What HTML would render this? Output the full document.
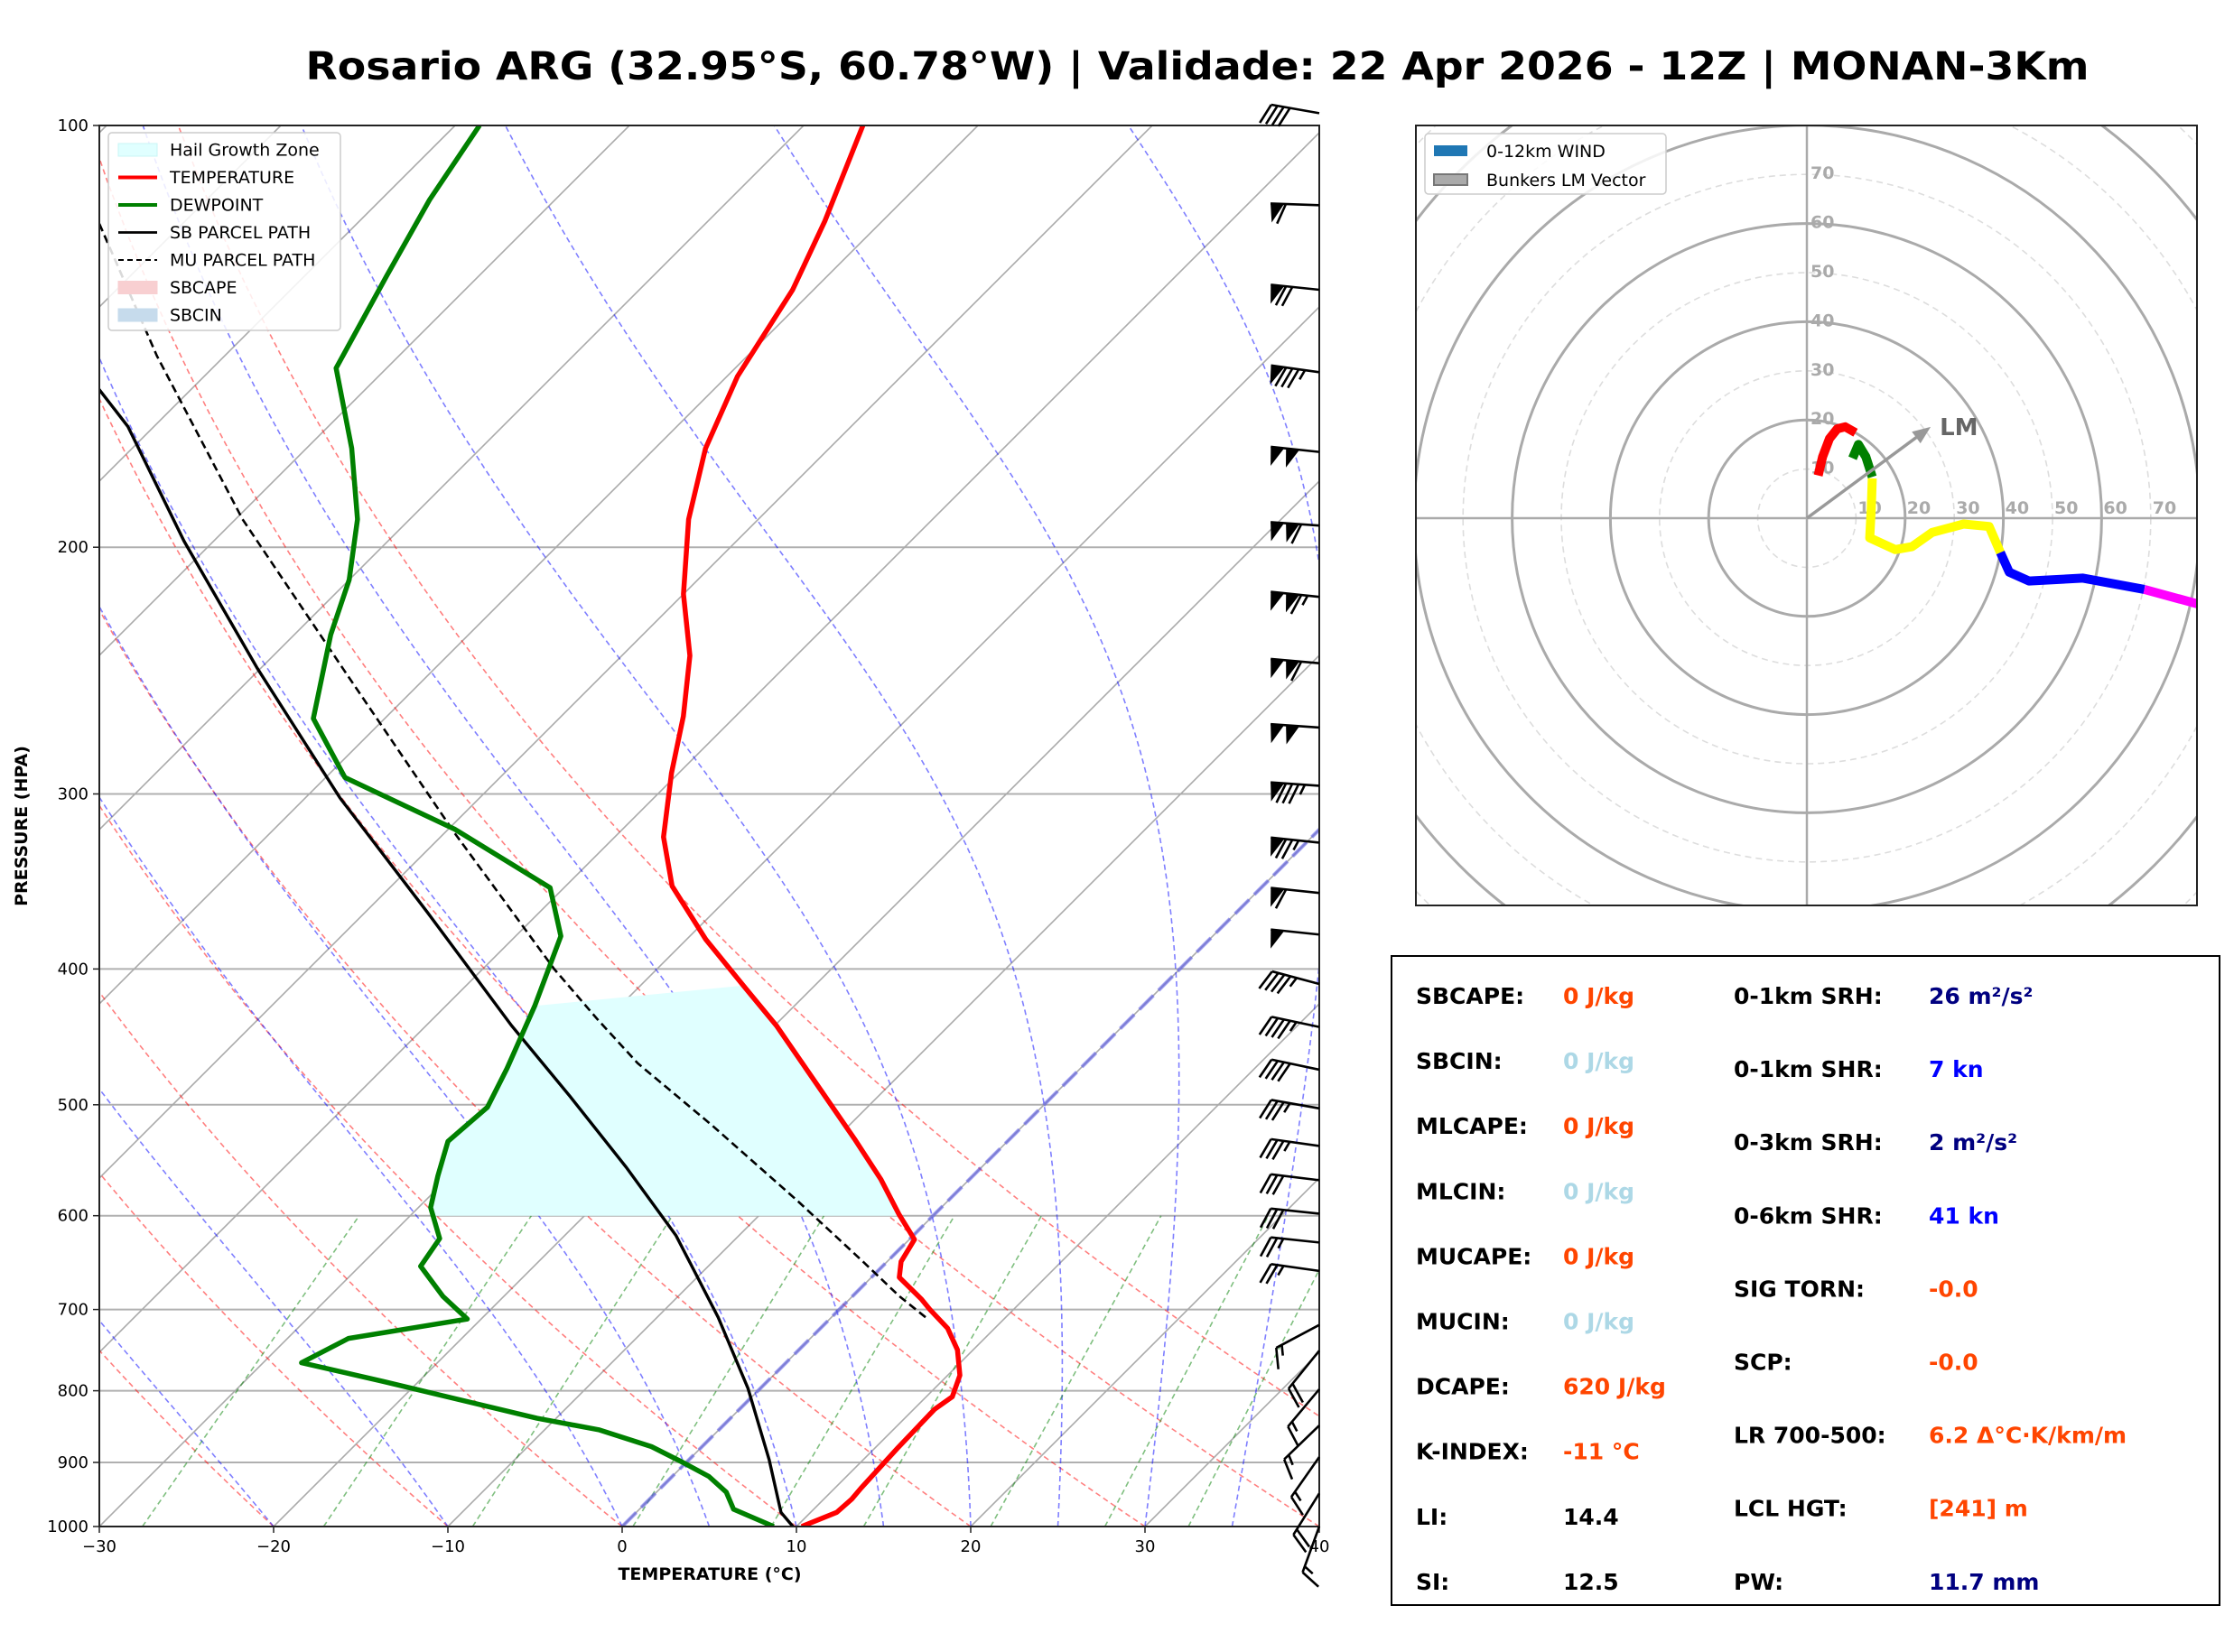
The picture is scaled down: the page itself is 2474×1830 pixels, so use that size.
<!DOCTYPE html>
<html><head><meta charset="utf-8"><style>
html,body{margin:0;padding:0;background:#fff}
svg{display:block;font-family:"DejaVu Sans","Liberation Sans",sans-serif}
</style></head><body>
<svg id="fig" width="2474" height="1830" viewBox="0 0 2474 1830" xmlns="http://www.w3.org/2000/svg">
<rect x="0" y="0" width="2474" height="1830" fill="#fff"/>
<text x="1326" y="88" text-anchor="middle" font-size="43" font-weight="bold" textLength="1975" lengthAdjust="spacingAndGlyphs">Rosario ARG (32.95°S, 60.78°W) | Validade: 22 Apr 2026 - 12Z | MONAN-3Km</text>
<defs>
<clipPath id="skewclip"><rect x="110" y="139" width="1351" height="1552"/></clipPath>
<clipPath id="hodoclip"><rect x="1568" y="139" width="865" height="864"/></clipPath>
</defs>
<g id="skew"></g>
<g id="hodo"></g>
<g id="stats">
<rect x="1541" y="1059" width="917" height="719" fill="none" stroke="#000" stroke-width="2"/>
</g>
</svg>
<script>
// ---- Sounding data ----
const tempP = [1000,977,956,939,879,825,808,780,748,722,700,688,664,647,624,599,565,529,439,411,381,349,322,290,264,239,216,191,170,151,131,117,100];
const tempC = [10.3,11.5,11.6,11.5,11.3,11.2,11.5,10.7,9.1,7.3,5.2,4.1,1.6,0.8,0.3,-2.0,-5.1,-8.9,-19.9,-24.1,-28.9,-33.9,-37.2,-40.4,-43,-46.1,-50,-54,-57.1,-59.4,-61.2,-63.3,-66.6];
const dewP = [1000,972,945,921,900,877,853,837,788,764,734,711,685,652,623,592,562,531,502,471,425,379,350,318,292,265,231,211,191,170,149,128,113,100];
const dewC = [8.7,5.4,4,2.1,-0.2,-2.9,-6.9,-11.1,-22,-27.8,-26.5,-20.8,-23.5,-26.5,-27,-29.3,-30.7,-32.1,-31.8,-32.9,-34.9,-37.4,-40.8,-49.6,-58.9,-64.1,-67.9,-70,-73,-77.4,-82.9,-85.3,-87.2,-88.6];
const sbP = [1000,977,896,797,709,620,554,493,439,364,302,244,198,164,154];
const sbC = [9.8,8.3,4.6,-0.7,-6.5,-13.6,-20.4,-27.7,-35.1,-46.5,-58,-70.2,-81.7,-91.5,-95.4];
const muP = [709,685,646,585,517,467,434,400,320,244,191,146,117];
const muC = [5.4,2.7,-1.5,-8.7,-17.9,-25.7,-30.6,-35.9,-49.4,-65.3,-79.6,-93.9,-105];
const barbP = [98,114,131,150,171,193,217,242,269,296,325,353,378,410,440,472,503,535,566,598,627,657,718,749,798,847,892,947,1000];
const barbSpd = [40,60,70,85,100,110,115,110,100,85,75,60,50,45,45,40,35,35,30,30,25,25,15,20,15,15,15,20,15];
const barbDir = [280,272,276,278,276,274,276,275,274,274,276,276,276,285,282,282,280,278,277,276,276,278,242,219,220,226,215,212,200];
const pTicks = [100,200,300,400,500,600,700,800,900,1000];
const tTicks = [-30,-20,-10,0,10,20,30,40];
// ---- Hodograph data (u,v in kn) ----
const hodoRed = [[2.3,8.7],[3.2,12.5],[4.6,16.2],[6.2,18.2],[7.8,18.6],[9.9,17.4]];
const hodoGreen = [[9.3,12.2],[10.5,15],[12,12.5],[13.3,8.4]];
const hodoYellow = [[13.3,8.1],[13.1,2],[12.8,-4],[18,-6.4],[21.4,-5.8],[25.5,-2.9],[31.9,-1.2],[37.1,-1.7],[39.4,-7]];
const hodoBlue = [[39.4,-7],[41.2,-11],[45.2,-12.8],[56.2,-12.2],[68.7,-14.5]];
const hodoMagenta = [[68.7,-14.5],[80,-17.6]];
const bunkersLM = [25.2,18.6];
const ringKn = [10,20,30,40,50,60,70,80,90,100,110,120];
const ringLabels = [10,20,30,40,50,60,70];

const NS='http://www.w3.org/2000/svg';
function el(tag,attrs,parent){const e=document.createElementNS(NS,tag);for(const k in attrs)e.setAttribute(k,attrs[k]);if(parent)parent.appendChild(e);return e;}
const L=110,R=1461,T=139,B=1691,H=1552;
function yP(p){return B-Math.log10(1000/p)*H;}
function xT(t,p){return L+(t+30)*19.3+(B-yP(p));}
function pathOf(ps,ts){return ps.map((p,i)=>(i?'L':'M')+xT(ts[i],p).toFixed(1)+','+yP(p).toFixed(1)).join('');}
const skew=document.getElementById('skew');
const clipG=el('g',{'clip-path':'url(#skewclip)'},skew);

pTicks.forEach(p=>{const ln=el('line',{x1:L,x2:R,y1:yP(p),y2:yP(p),stroke:'#b0b0b0','stroke-width':2},clipG);

});
for(let t=-130;t<=40;t+=10){const ln=el('line',{x1:xT(t,1000),y1:B,x2:xT(t,100),y2:T,stroke:'#aaa','stroke-width':1.6},clipG);

}
const plev=[];for(let p=1000;p>=100;p-=10)plev.push(p);
for(let t0=-80;t0<=50;t0+=10){const th=t0+273.15;const d=plev.map((p,i)=>(i?'L':'M')+xT(th*Math.pow(p/1000,0.286)-273.15,p).toFixed(1)+','+yP(p).toFixed(1)).join('');
const pa=el('path',{d:d,fill:'none',stroke:'rgba(255,0,0,0.5)','stroke-width':1.6,'stroke-dasharray':'6,4'},clipG);

}
function es(tc){return 6.112*Math.exp(17.67*tc/(tc+243.5));}
[-40,-30,-20,-10,0,5,10,15,20,25,30,35].forEach(t0=>{let Tk=t0+273.15;let d='M'+xT(t0,1000).toFixed(1)+','+yP(1000).toFixed(1);
for(let p=1000;p>100;p-=2){const e=es(Tk-273.15);const rs=0.622*e/(p-e);const num=287.04*Tk+2.501e6*rs;const den=1005.7+(2.501e6*2.501e6*rs*0.622)/(287.04*Tk*Tk);const dT=num/den/p*(-2);Tk+=dT;d+='L'+xT(Tk-273.15,p-2).toFixed(1)+','+yP(p-2).toFixed(1);}
const pa=el('path',{d:d,fill:'none',stroke:'rgba(0,0,255,0.5)','stroke-width':1.6,'stroke-dasharray':'6,4'},clipG);

});
[0.0004,0.001,0.002,0.004,0.007,0.01,0.016,0.024,0.032].forEach(w=>{const ps=[1000,600];const d=ps.map((p,i)=>{const e=w*p/(0.622+w);const td=243.5*Math.log(e/6.112)/(17.67-Math.log(e/6.112));return (i?'L':'M')+xT(td,p).toFixed(1)+','+yP(p).toFixed(1);}).join('');
const pa=el('path',{d:d,fill:'none',stroke:'rgba(0,128,0,0.5)','stroke-width':1.6,'stroke-dasharray':'6,4'},clipG);

});
const z0=el('line',{x1:xT(0,1000),y1:B,x2:xT(0,100),y2:T,stroke:'rgba(90,90,230,0.6)','stroke-width':4,'stroke-dasharray':'22,8'},clipG);


function interp(ps,ts,p){for(let i=0;i<ps.length-1;i++){if(p<=ps[i]&&p>=ps[i+1]){const f=Math.log(ps[i]/p)/Math.log(ps[i]/ps[i+1]);return ts[i]+f*(ts[i+1]-ts[i]);}}return ts[0];}
{let pts=[[interp(dewP,dewC,600),600]];dewP.forEach((p,i)=>{if(p<600&&p>=425)pts.push([dewC[i],p]);});
const tp=[];tempP.forEach((p,i)=>{if(p<600&&p>=411)tp.push([tempC[i],p]);});tp.reverse();pts=pts.concat(tp);pts.push([interp(tempP,tempC,600),600]);
const hz=el('polygon',{points:pts.map(a=>xT(a[0],a[1]).toFixed(1)+','+yP(a[1]).toFixed(1)).join(' '),fill:'#e0ffff',stroke:'none'},clipG);

}
const sbl=el('path',{d:pathOf(sbP,sbC),fill:'none',stroke:'#000','stroke-width':3.4},clipG);


const mul=el('path',{d:pathOf(muP,muC),fill:'none',stroke:'#000','stroke-width':2.6,'stroke-dasharray':'9,5'},clipG);


const dwl=el('path',{d:pathOf(dewP,dewC),fill:'none',stroke:'#008000','stroke-width':5.5,'stroke-linejoin':'round'},clipG);


const tl=el('path',{d:pathOf(tempP,tempC),fill:'none',stroke:'#ff0000','stroke-width':5.5,'stroke-linejoin':'round'},clipG);


el('rect',{x:L,y:T,width:R-L,height:B-T,fill:'none',stroke:'#222','stroke-width':2},skew);
pTicks.forEach(p=>{el('line',{x1:L-7,x2:L,y1:yP(p),y2:yP(p),stroke:'#222','stroke-width':1.5},skew);
const t=el('text',{x:L-12,y:yP(p)+6,'text-anchor':'end','font-size':18},skew);t.textContent=p;

});
tTicks.forEach(v=>{const x=L+(v+30)*19.3;el('line',{x1:x,x2:x,y1:B,y2:B+7,stroke:'#222','stroke-width':1.5},skew);
const t=el('text',{x:x,y:B+28,'text-anchor':'middle','font-size':18},skew);t.textContent=(v<0?'\u2212':'')+Math.abs(v);

});
{const t=el('text',{x:786,y:1750,'text-anchor':'middle','font-size':19,'font-weight':'bold'},skew);t.textContent='TEMPERATURE (°C)';


const t2=el('text',{x:0,y:0,'text-anchor':'middle','font-size':19,'font-weight':'bold',transform:'translate(30,915) rotate(-90)'},skew);t2.textContent='PRESSURE (HPA)';

}
function barb(p,spd,dir){const g=el('g',{},skew);


const bx=R,by=yP(p);const a=dir*Math.PI/180;const dx=Math.sin(a),dy=-Math.cos(a);const px=dy,py=-dx;const Ln=54;
const tx=bx+dx*Ln,ty=by+dy*Ln;el('line',{x1:bx,y1:by,x2:tx,y2:ty,stroke:'#000','stroke-width':2.6},g);
let s=Math.round(spd/5)*5;let pos=0;const np=Math.floor(s/50);s-=np*50;const nf=Math.floor(s/10);s-=nf*10;const nh=s>=5?1:0;
for(let i=0;i<np;i++){const x1=tx-dx*pos,y1=ty-dy*pos,x2=tx-dx*(pos+15),y2=ty-dy*(pos+15);const ax=x1+px*21-dx*2,ay=y1+py*21-dy*2;
el('polygon',{points:`${x1},${y1} ${x2},${y2} ${ax},${ay}`,fill:'#000'},g);pos+=17;}
if(np===0&&nf===0)pos=7;
for(let i=0;i<nf;i++){const x1=tx-dx*pos,y1=ty-dy*pos;el('line',{x1:x1,y1:y1,x2:x1+px*22+dx*9,y2:y1+py*22+dy*9,stroke:'#000','stroke-width':2.6},g);pos+=7;}
if(nh){const x1=tx-dx*pos,y1=ty-dy*pos;el('line',{x1:x1,y1:y1,x2:x1+px*11+dx*4.5,y2:y1+py*11+dy*4.5,stroke:'#000','stroke-width':2.6},g);}}
barbP.forEach((p,i)=>barb(p,barbSpd[i],barbDir[i]));
{const g=el('g',{},skew);


el('rect',{x:120,y:147,width:257,height:219,rx:4,fill:'rgba(255,255,255,0.85)',stroke:'#ccc','stroke-width':1.5},g);
const items=[['Hail Growth Zone','patch','#e0ffff','#c8f5f5'],['TEMPERATURE','line','#ff0000',4],['DEWPOINT','line','#008000',4],['SB PARCEL PATH','line','#000',2.8],['MU PARCEL PATH','dash','#000',2],['SBCAPE','patch','#f8cfd1','#f8cfd1'],['SBCIN','patch','#c6dbec','#c6dbec']];
items.forEach((it,i)=>{const y=166+i*30.5;
if(it[1]==='patch')el('rect',{x:131,y:y-7,width:43,height:14,fill:it[2],stroke:it[3]},g);
else el('line',{x1:131,x2:174,y1:y,y2:y,stroke:it[2],'stroke-width':it[3],'stroke-dasharray':it[1]==='dash'?'6,4':'none'},g);
const t=el('text',{x:188,y:y+6.5,'font-size':19},g);t.textContent=it[0];

});}

const hodo=document.getElementById('hodo');
const cx=2001,cy=574,k=5.44;
const hg=el('g',{'clip-path':'url(#hodoclip)'},hodo);
ringKn.forEach(r=>{const c=el('circle',{cx:cx,cy:cy,r:r*k,fill:'none',stroke:r%20===0?'#aaa':'#ddd','stroke-width':r%20===0?3:1.6,'stroke-dasharray':r%20===0?'none':'7,5'},hg);

});
el('line',{x1:1568,x2:2433,y1:cy,y2:cy,stroke:'#aaa','stroke-width':2.5},hg);
el('line',{x1:cx,x2:cx,y1:139,y2:1003,stroke:'#aaa','stroke-width':2.5},hg);
ringLabels.forEach(r=>{const t=el('text',{x:cx+4,y:cy-r*k+5,'font-size':19,'font-weight':'bold',fill:'#aaa'},hg);t.textContent=r;


const t2=el('text',{x:cx+r*k+2,y:cy-5,'font-size':19,'font-weight':'bold',fill:'#aaa'},hg);t2.textContent=r;

});
function hpath(arr){return arr.map((a,i)=>(i?'L':'M')+(cx+a[0]*k).toFixed(1)+','+(cy-a[1]*k).toFixed(1)).join('');}
[[hodoYellow,'#ffff00','hodo-yellow'],[hodoBlue,'#0000ff','hodo-blue'],[hodoMagenta,'#ff00ff','hodo-magenta'],[hodoRed,'#ff0000','hodo-red'],[hodoGreen,'#008000','hodo-green']].forEach(s=>{
const pa=el('path',{d:hpath(s[0]),fill:'none',stroke:s[1],'stroke-width':10,'stroke-linejoin':'round'},hg);

});
{const ex=cx+bunkersLM[0]*k,ey=cy-bunkersLM[1]*k;const ang=Math.atan2(ey-cy,ex-cx);
const ar=el('line',{x1:cx,y1:cy,x2:ex-Math.cos(ang)*12,y2:ey-Math.sin(ang)*12,stroke:'#999','stroke-width':3.5},hg);


const hx=ex,hy=ey;const b1x=hx-Math.cos(ang)*20+Math.sin(ang)*8,b1y=hy-Math.sin(ang)*20-Math.cos(ang)*8,b2x=hx-Math.cos(ang)*20-Math.sin(ang)*8,b2y=hy-Math.sin(ang)*20+Math.cos(ang)*8;
el('polygon',{points:`${hx},${hy} ${b1x},${b1y} ${b2x},${b2y}`,fill:'#999'},hg);
const t=el('text',{x:ex+10,y:ey+9,'font-size':26,'font-weight':'bold',fill:'#666'},hg);t.textContent='LM';

}
el('rect',{x:1568,y:139,width:865,height:864,fill:'none',stroke:'#222','stroke-width':2},hodo);
{const g=el('g',{},hodo);


el('rect',{x:1578,y:148,width:267,height:67,rx:4,fill:'rgba(255,255,255,0.85)',stroke:'#ccc','stroke-width':1.5},g);
el('rect',{x:1588,y:161,width:37,height:12,fill:'#1f77b4'},g);
el('rect',{x:1588,y:193,width:37,height:12,fill:'#aaa',stroke:'#777','stroke-width':2},g);
const t1=el('text',{x:1646,y:174,'font-size':19},g);t1.textContent='0-12km WIND';


const t2=el('text',{x:1646,y:206,'font-size':19},g);t2.textContent='Bunkers LM Vector';

}

const stats=document.getElementById('stats');
const leftRows=[['SBCAPE:','0 J/kg','#ff4500'],['SBCIN:','0 J/kg','#add8e6'],['MLCAPE:','0 J/kg','#ff4500'],['MLCIN:','0 J/kg','#add8e6'],['MUCAPE:','0 J/kg','#ff4500'],['MUCIN:','0 J/kg','#add8e6'],['DCAPE:','620 J/kg','#ff4500'],['K-INDEX:','-11 °C','#ff4500'],['LI:','14.4','#000'],['SI:','12.5','#000']];
const rightRows=[['0-1km SRH:','26 m²/s²','#000080'],['0-1km SHR:','7 kn','#0000ff'],['0-3km SRH:','2 m²/s²','#000080'],['0-6km SHR:','41 kn','#0000ff'],['SIG TORN:','-0.0','#ff4500'],['SCP:','-0.0','#ff4500'],['LR 700-500:','6.2 Δ°C·K/km/m','#ff4500'],['LCL HGT:','[241] m','#ff4500'],['PW:','11.7 mm','#000080']];
leftRows.forEach((r,i)=>{const y=1112+i*72.1;
const a=el('text',{x:1568,y:y,'font-size':25,'font-weight':'bold'},stats);a.textContent=r[0];


const b=el('text',{x:1731,y:y,'font-size':25,'font-weight':'bold',fill:r[2]},stats);b.textContent=r[1];

});
rightRows.forEach((r,i)=>{const y=1112+i*81.1;
const a=el('text',{x:1920,y:y,'font-size':25,'font-weight':'bold'},stats);a.textContent=r[0];


const b=el('text',{x:2136,y:y,'font-size':25,'font-weight':'bold',fill:r[2]},stats);b.textContent=r[1];

});
</script>
</body></html>
